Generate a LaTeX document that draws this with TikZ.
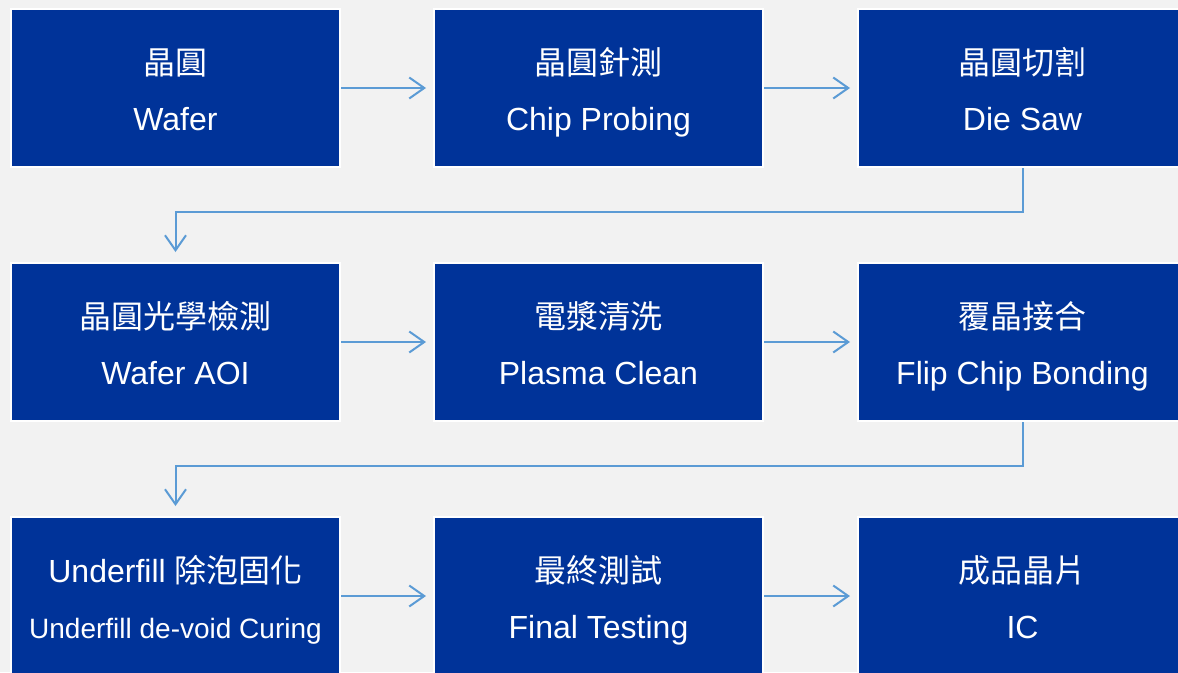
\documentclass[tikz,border=0pt]{standalone}
\usepackage{fontspec}
\setmainfont{Liberation Sans}
\newfontfamily\cjk{Noto Sans CJK TC}
\usetikzlibrary{arrows.meta, positioning}
\definecolor{boxblue}{RGB}{0,51,153}
\definecolor{flowblue}{RGB}{91,155,213}
\definecolor{pagegray}{RGB}{242,242,242}
\newcommand{\lnstrut}{\rule[-14pt]{0pt}{56pt}}
\tikzset{
    stepbox/.style={rectangle, fill=boxblue, draw=white, line width=2pt, text=white,
        minimum width=329pt, minimum height=158pt, align=center,
        font=\fontsize{32}{56}\selectfont},
    flow/.style={draw=flowblue, line width=2pt,
        -{Straight Barb[length=15pt, width=21pt, line width=2pt]}}
}

\begin{document}
\begin{tikzpicture}[x=1pt, y=-1pt]
    \fill[pagegray] (0,0) rectangle (1178,672);
    \useasboundingbox (0,0) rectangle (1178,672);

    \node[stepbox] (wafer) at (175.5, 88) {\lnstrut{\cjk 晶圓}\\\lnstrut Wafer};
    \node[stepbox] (probe) at (598.5, 88) {\lnstrut{\cjk 晶圓針測}\\\lnstrut Chip Probing};
    \node[stepbox] (saw) at (1022.5, 88) {\lnstrut{\cjk 晶圓切割}\\\lnstrut Die Saw};

    \node[stepbox] (aoi) at (175.5, 342) {\lnstrut{\cjk 晶圓光學檢測}\\\lnstrut Wafer AOI};
    \node[stepbox] (plasma) at (598.5, 342) {\lnstrut{\cjk 電漿清洗}\\\lnstrut Plasma Clean};
    \node[stepbox] (bond) at (1022.5, 342) {\lnstrut{\cjk 覆晶接合}\\\lnstrut Flip Chip Bonding};

    \node[stepbox] (underfill) at (175.5, 596) {\lnstrut Underfill {\cjk 除泡固化}\\\lnstrut{\fontsize{28}{28}\selectfont Underfill de-void Curing}};
    \node[stepbox] (final) at (598.5, 596) {\lnstrut{\cjk 最終測試}\\\lnstrut Final Testing};
    \node[stepbox] (ic) at (1022.5, 596) {\lnstrut{\cjk 成品晶片}\\\lnstrut IC};

    \draw[flow, shorten >=7pt]
    (wafer) edge (probe)
    (probe) edge (saw)
    (aoi) edge (plasma)
    (plasma) edge (bond)
    (underfill) edge (final)
    (final) edge (ic);

    \draw[flow] (saw.south) -- ++(0,44) -| ([yshift=10pt]aoi.north);
    \draw[flow] (bond.south) -- ++(0,44) -| ([yshift=10pt]underfill.north);
\end{tikzpicture}
\end{document}
